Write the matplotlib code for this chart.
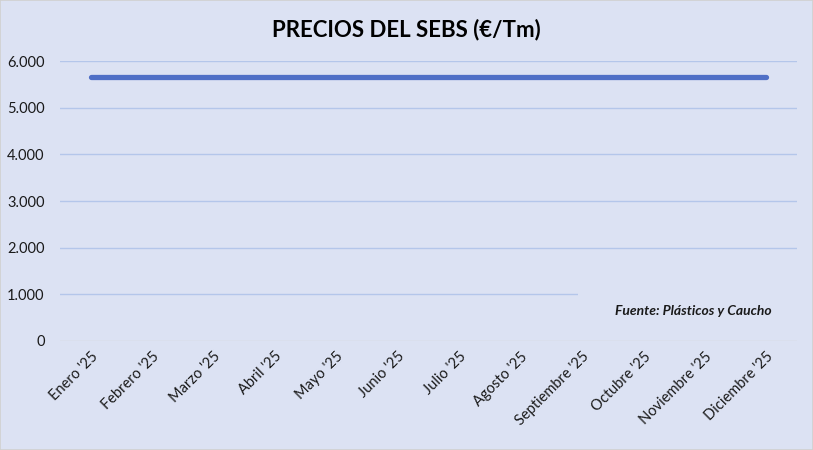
import matplotlib
matplotlib.use("Agg")
import matplotlib.pyplot as plt
from matplotlib.patches import Rectangle
from matplotlib.ticker import FuncFormatter

months = ["Enero '25", "Febrero '25", "Marzo '25", "Abril '25", "Mayo '25", "Junio '25",
          "Julio '25", "Agosto '25", "Septiembre '25", "Octubre '25", "Noviembre '25", "Diciembre '25"]
prices = [5650, 5650, 5650, 5650, 5650, 5650, 5650, 5650, 5650, 5650, 5650, 5650]
yticks = [0, 1000, 2000, 3000, 4000, 5000, 6000]

bg = "#dce2f3"
plt.rcParams['font.family'] = ['Lato', 'DejaVu Sans']

fig = plt.figure(figsize=(8.13, 4.5), dpi=100, facecolor=bg)
ax = fig.add_axes([60/813, 1-341/450, 737/813, 280/450], facecolor=bg)

x = list(range(len(months)))
ax.plot(x, prices, color="#4f6fc6", lw=3.8, solid_capstyle="round", zorder=5)

ax.set_xlim(-0.5, len(months)-0.5)
ax.set_ylim(0, 6000)
ax.set_yticks(yticks)
ax.yaxis.set_major_formatter(FuncFormatter(lambda v, p: f"{int(v):,}".replace(",", ".")))
ax.set_xticks(x)
ax.set_xticklabels(months, rotation=45, ha="right", rotation_mode="anchor", fontsize=10.5, color="#1a1a1a")
ax.tick_params(axis="y", labelsize=10.5, colors="#1a1a1a", length=0, pad=11)
ax.tick_params(axis="x", length=0, pad=6)
for s in ax.spines.values():
    s.set_visible(False)
for v in yticks:
    ax.axhline(v, color="#d6d6d6" if v == 0 else "#b4c6ea", lw=1, zorder=1)

# box of the source text hides part of the 1.000 gridline
ax.add_patch(Rectangle((7.93, 700), 5, 600, facecolor=bg, edgecolor="none", zorder=2))
ax.text(0.965, 0.108, "Fuente: Plásticos y Caucho", transform=ax.transAxes, ha="right", va="center",
        fontsize=10, fontweight="bold", fontstyle="italic", color="#1a1a1a", zorder=6)

fig.text(0.5, 1-30/450, "PRECIOS DEL SEBS (€/Tm)", ha="center", va="center",
         fontsize=16, fontweight="bold", color="black")

fig.add_artist(Rectangle((0, 0), 1, 1, transform=fig.transFigure, fill=False,
                         edgecolor="#d0d0d0", lw=1.2))
fig.savefig("out.png", dpi=100, facecolor=bg)
